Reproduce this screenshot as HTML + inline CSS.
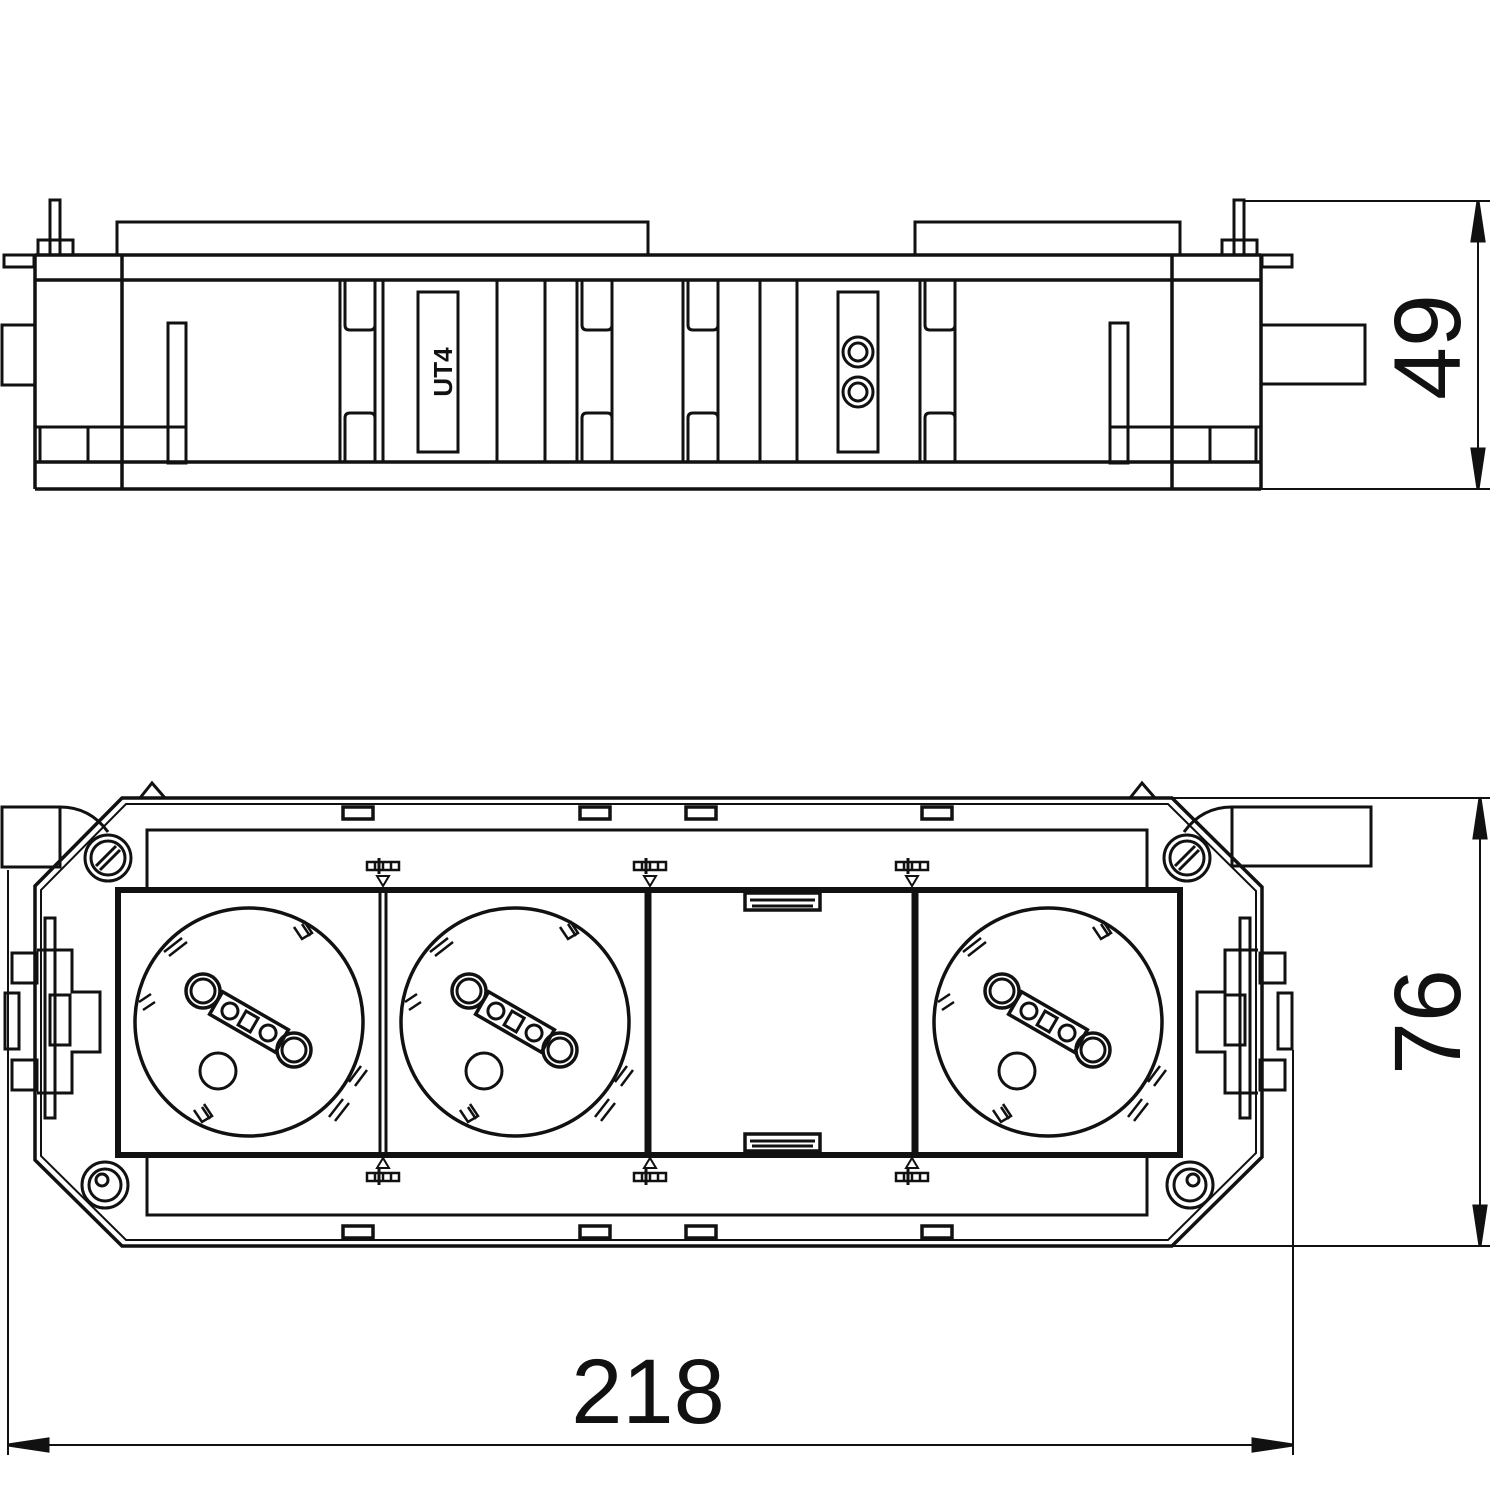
<!DOCTYPE html>
<html><head><meta charset="utf-8"><style>html,body{margin:0;padding:0;background:#fff}svg{display:block}</style></head><body>
<svg width="1500" height="1500" viewBox="0 0 1500 1500" xmlns="http://www.w3.org/2000/svg" fill="none" stroke="#111" stroke-width="3" font-family="Liberation Sans, sans-serif">
<defs>
<g id="sock">
 <circle r="114" stroke-width="3.5"/>
 <circle cx="-46" cy="-31" r="17" stroke-width="3.5"/><circle cx="-46" cy="-31" r="12"/>
 <circle cx="45" cy="28" r="17" stroke-width="3.5"/><circle cx="45" cy="28" r="12"/>
 <g transform="rotate(30)"><rect x="-38" y="-13" width="76" height="26" stroke-width="3.5"/>
  <circle cx="-22" cy="0" r="8"/><rect x="-8" y="-8" width="14" height="16"/><circle cx="22" cy="0" r="8"/></g>
 <circle cx="-31" cy="49" r="18"/>
 <g stroke-width="2.5"><path d="M-85 -70 l18 -14 M-80 -66 l18 -14"/><path d="M-110 -20 l12 -8 M-106 -12 l12 -8"/>
 <path d="M45 -95 l8 12 l10 -6 l-8 -12 M53 -98 l8 12"/><path d="M100 60 l12 -16 M106 64 l12 -16"/><path d="M80 95 l14 -18 M86 99 l14 -18"/>
 <path d="M-55 88 l8 12 l10 -6 l-8 -12 M-47 85 l8 12"/></g>
</g>
<g id="mark" stroke-width="2.5"><rect x="-16" y="-4" width="32" height="8"/><path d="M-8 -4v8M0 -4v8M8 -4v8"/><path d="M-4 -8v16" stroke-width="3"/></g>
</defs>

<!-- TOP VIEW -->
<rect x="117" y="222" width="531" height="33"/>
<rect x="915" y="222" width="265" height="33"/>
<path d="M35 255 H1261 M35 280 H1261 M35 462 H1261 M35 489 H1261 M35 255 V489 M1261 255 V489" stroke-width="3.5"/>
<path d="M122 255 V489 M1172 255 V489" stroke-width="3.5"/>
<rect x="2" y="325" width="33" height="60"/>
<rect x="1261" y="325" width="104" height="59"/>
<rect x="50" y="200" width="10" height="55"/><rect x="38" y="240" width="35" height="15"/>
<rect x="1234" y="200" width="10" height="55"/><rect x="1222" y="240" width="35" height="15"/>
<rect x="4" y="255" width="30" height="12"/><rect x="1262" y="255" width="30" height="12"/>
<path d="M383 280 V462 M497 280 V462 M545 280 V462 M760 280 V462 M797 280 V462"/>
<g stroke-width="3">
<path d="M340 280 V462 M375 280 V462 M577 280 V462 M612 280 V462 M683 280 V462 M718 280 V462 M920 280 V462 M955 280 V462"/>
<path d="M345 280 V325 q0 5 5 5 h20 q5 0 5 -5 V280 M345 462 V418 q0 -5 5 -5 h20 q5 0 5 5 V462"/>
<path d="M582 280 V325 q0 5 5 5 h20 q5 0 5 -5 V280 M582 462 V418 q0 -5 5 -5 h20 q5 0 5 5 V462"/>
<path d="M688 280 V325 q0 5 5 5 h20 q5 0 5 -5 V280 M688 462 V418 q0 -5 5 -5 h20 q5 0 5 5 V462"/>
<path d="M925 280 V325 q0 5 5 5 h20 q5 0 5 -5 V280 M925 462 V418 q0 -5 5 -5 h20 q5 0 5 5 V462"/>
</g>
<rect x="418" y="292" width="40" height="160"/>
<text x="0" y="0" transform="translate(452,372) rotate(-90)" fill="#111" stroke="none" font-size="26" font-weight="bold" text-anchor="middle">UT4</text>
<rect x="838" y="292" width="40" height="160"/>
<circle cx="858" cy="352" r="15"/><circle cx="858" cy="352" r="9"/>
<circle cx="858" cy="392" r="15"/><circle cx="858" cy="392" r="9"/>
<rect x="168" y="323" width="18" height="140"/><rect x="1110" y="323" width="18" height="140"/>
<path d="M35 427 H186 M88 427 V462 M40 427 V462 M1110 427 H1261 M1210 427 V462 M1256 427 V462"/>
<!-- dim 49 -->
<path d="M1244 201 H1490 M1261 489 H1490 M1478 201 V489" stroke-width="2"/>
<path d="M1478 201 l-6 40 h12z M1478 489 l-6 -40 h12z" fill="#111"/>
<text transform="translate(1460,347) rotate(-90)" fill="#111" stroke="none" font-size="95" text-anchor="middle">49</text>

<!-- BOTTOM VIEW -->
<path d="M122 798 H1172 L1262 887 V1157 L1172 1246 H122 L35 1160 V886 Z" stroke-width="3.5"/>
<path d="M126 804 H1168 L1256 891 V1153 L1168 1240 H126 L41 1156 V890 Z" stroke-width="2"/>
<path d="M140 798 L152 783 L165 798 M1130 798 L1142 783 L1155 798"/>
<rect x="147" y="830" width="1000" height="385"/>
<rect x="2" y="807" width="58" height="60"/><path d="M60 807 q30 0 48 25"/>
<rect x="1232" y="807" width="139" height="59"/><path d="M1232 807 q-30 0 -48 25"/>
<rect x="118" y="890" width="1062" height="265" stroke-width="6" fill="#fff"/>
<path d="M380 890 V1155 M386 890 V1155"/>
<path d="M648 890 V1155 M915 890 V1155" stroke-width="7"/>
<use href="#sock" x="249" y="1022"/><use href="#sock" x="515" y="1022"/><use href="#sock" x="1048" y="1022"/>
<rect x="745" y="893" width="75" height="17" stroke-width="3.5"/><path d="M750 900 H815 M752 906 H813"/>
<rect x="745" y="1134" width="75" height="17" stroke-width="3.5"/><path d="M750 1141 H815 M752 1146 H813"/>
<g stroke-width="3.5"><rect x="343" y="807" width="30" height="12"/><rect x="580" y="807" width="30" height="12"/><rect x="686" y="807" width="30" height="12"/><rect x="922" y="807" width="30" height="12"/>
<rect x="343" y="1226" width="30" height="12"/><rect x="580" y="1226" width="30" height="12"/><rect x="686" y="1226" width="30" height="12"/><rect x="922" y="1226" width="30" height="12"/></g>
<use href="#mark" x="383" y="866"/><use href="#mark" x="650" y="866"/><use href="#mark" x="912" y="866"/>
<use href="#mark" x="383" y="1177"/><use href="#mark" x="650" y="1177"/><use href="#mark" x="912" y="1177"/>
<path d="M377 876 h12 l-6 10z M644 876 h12 l-6 10z M906 876 h12 l-6 10z M377 1168 h12 l-6 -10z M644 1168 h12 l-6 -10z M906 1168 h12 l-6 -10z" stroke-width="2"/>
<g><circle cx="108" cy="858" r="23"/><circle cx="108" cy="858" r="17"/><path d="M96 866 l20 -20 M100 870 l20 -20"/>
<circle cx="1187" cy="858" r="23"/><circle cx="1187" cy="858" r="17"/><path d="M1175 866 l20 -20 M1179 870 l20 -20"/>
<circle cx="105" cy="1185" r="23"/><circle cx="105" cy="1185" r="16"/><circle cx="102" cy="1180" r="6"/>
<circle cx="1190" cy="1185" r="23"/><circle cx="1190" cy="1185" r="16"/><circle cx="1193" cy="1180" r="6"/></g>
<!-- side clips -->
<g stroke-width="3">
<rect x="45" y="918" width="10" height="200"/><rect x="12" y="953" width="25" height="30"/><rect x="12" y="1060" width="25" height="30"/>
<path d="M37 950 H72 V992 H100 V1052 H72 V1093 H37"/><rect x="5" y="993" width="14" height="56"/><rect x="50" y="995" width="20" height="50"/>
<rect x="1240" y="918" width="10" height="200"/><rect x="1260" y="953" width="25" height="30"/><rect x="1260" y="1060" width="25" height="30"/>
<path d="M1258 950 H1225 V992 H1197 V1052 H1225 V1093 H1258"/><rect x="1278" y="993" width="14" height="56"/><rect x="1225" y="995" width="20" height="50"/>
</g>
<!-- dim 76 -->
<path d="M1172 798 H1490 M1172 1246 H1490 M1480 798 V1246" stroke-width="2"/>
<path d="M1480 798 l-6 40 h12z M1480 1246 l-6 -40 h12z" fill="#111"/>
<text transform="translate(1460,1022) rotate(-90)" fill="#111" stroke="none" font-size="95" text-anchor="middle">76</text>
<!-- dim 218 -->
<path d="M8 870 V1455 M1293 1050 V1455 M8 1445 H1293" stroke-width="2"/>
<path d="M8 1445 l40 -6 v12z M1293 1445 l-40 -6 v12z" fill="#111"/>
<text x="648" y="1423" fill="#111" stroke="none" font-size="92" text-anchor="middle">218</text>
</svg>
</body></html>
